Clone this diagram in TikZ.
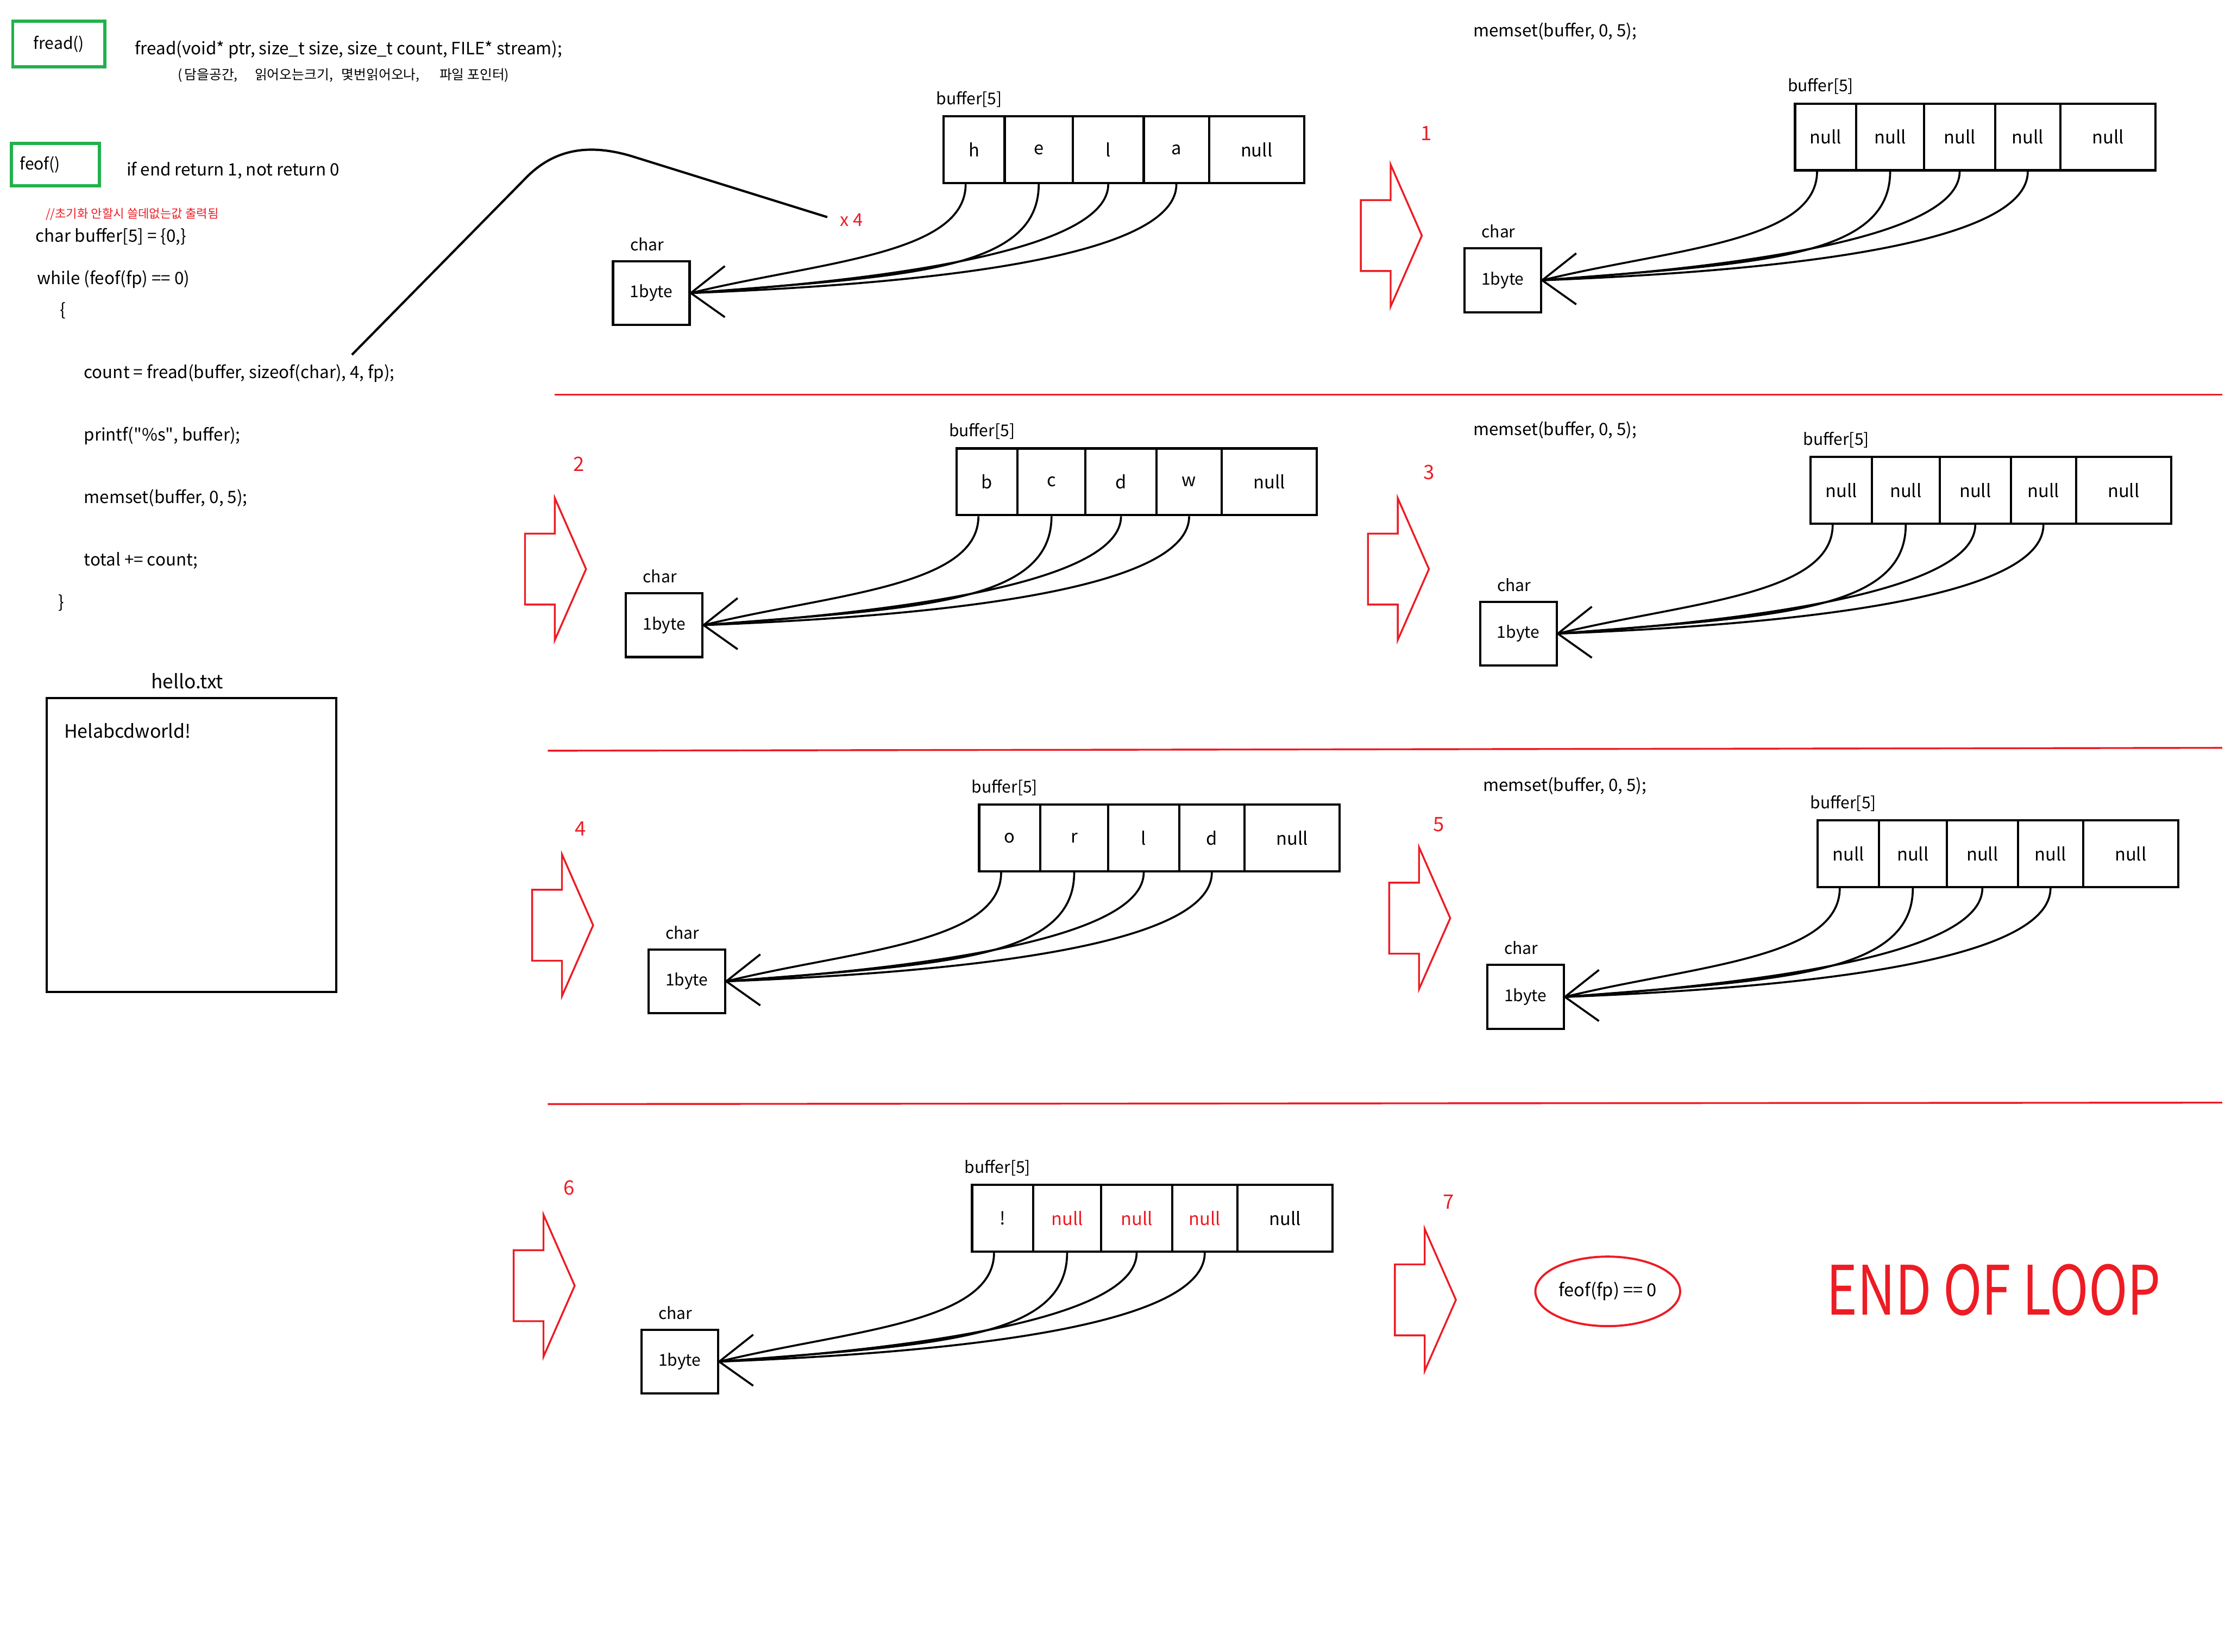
\documentclass[tikz,border=0pt]{standalone}
\usepackage{fontspec}
\setmainfont{Noto Sans CJK KR}
\usetikzlibrary{shapes.geometric}

\definecolor{paintred}{RGB}{237,28,36}
\definecolor{paintgreen}{RGB}{34,177,76}

\tikzset{
  code/.style={anchor=west, inner sep=0pt, font=\fontsize{12}{14}\selectfont},
  lbl/.style={inner sep=0pt, font=\fontsize{11.5}{13}\selectfont},
  cell/.style={draw, line width=1.6pt, minimum height=47, inner sep=0pt, font=\fontsize{12.5}{14}\selectfont},
  charbox/.style={draw, line width=1.6pt, minimum width=54, minimum height=45, inner sep=0pt, font=\fontsize{11.5}{13}\selectfont},
  fan/.style={line width=1.4pt},
  funcbox/.style={draw=paintgreen, line width=2.2pt, inner sep=0pt, font=\fontsize{11.5}{13}\selectfont},
  stepnum/.style={text=paintred, inner sep=0pt, font=\fontsize{14}{16}\selectfont},
  blockarrow/.style={draw=paintred, line width=1.3pt},
  sepline/.style={draw=paintred, line width=1.3pt}
}

% one buffer[5] with its char box and the four reads
\newcommand{\bufpanel}[8]{%
  \begin{scope}[shift={(#2,#3)}]
    \node[cell, minimum width=43] (#1c1) at (21.5,23.5) {#4};
    \node[cell, minimum width=48] (#1c2) at (67,23.5) {#5};
    \node[cell, minimum width=50] (#1c3) at (116,23.5) {#6};
    \node[cell, minimum width=46] (#1c4) at (164,23.5) {#7};
    \node[cell, minimum width=67] (#1c5) at (220.5,23.5) {#8};
    \node[lbl] (#1buf) at (18,-12) {buffer[5]};
    \node[charbox] (#1ch) at (-206,124.5) {1byte};
    \node[lbl] (#1chl) at (-209,90) {char};
  \end{scope}
  \draw[fan] ([xshift=-6]#1c1.south) .. controls +(0,50) and +(90,-22) .. (#1ch.east);
  \foreach \i/\a/\b/\c in {2/62/150/12, 3/45/150/10, 4/50/180/7}
    \draw[fan] (#1c\i.south) .. controls +(0,\a) and +(\b,-\c) .. (#1ch.east);
  \draw[fan] ([shift={(24,-19)}]#1ch.east) -- (#1ch.east) -- ([shift={(24,17)}]#1ch.east);
}

% red block arrow, given left end of shaft and middle height
\newcommand{\steparrow}[1]{%
  \draw[blockarrow, shift={#1}] (0,-25) -- (21,-25) -- (21,-50) -- (43,0) -- (21,50) -- (21,25) -- (0,25) -- cycle;
}

\begin{document}
\begin{tikzpicture}[x=1pt, y=-1pt]
  \useasboundingbox (0,0) rectangle (1568,1164);

  % Function boxes
  \node[funcbox, minimum width=65, minimum height=32] (freadbox) at (41.5,31) {fread()};
  \node[funcbox, text width=50, inner xsep=6, minimum height=30] (feofbox) at (39,116) {feof()};
  \node[code] (sig) at (95,35) {fread(void* ptr, size\_t size, size\_t count, FILE* stream);};
  \node[code, font=\fontsize{9.5}{11}\selectfont] (sigko) at (125,53)
    {(\,담을공간,\hspace{12pt}읽어오는크기,\hspace{6pt}몇번읽어오나,\hspace{14pt}파일 포인터)};
  \node[code] (ifend) at (89,120) {if end return 1, not return 0};

  % Code
  \node[code, text=paintred, font=\fontsize{8.5}{10}\selectfont] (note) at (32,151) {//초기화 안할시 쓸데없는값 출력됨};
  \node[code] (decl) at (25,167) {char buffer[5] = \{0,\}};
  \node[code] (whileln) at (26,197) {while (feof(fp) == 0)};
  \node[code] (lbrace) at (42,219) {\{};
  \node[code] (countln) at (59,263) {count = fread(buffer, sizeof(char), 4, fp);};
  \node[code] (println) at (59,307) {printf(\textquotedbl\%s\textquotedbl, buffer);};
  \node[code] (memsetln) at (59,351) {memset(buffer, 0, 5);};
  \node[code] (totalln) at (59,395) {total += count;};
  \node[code] (rbrace) at (41,425) {\}};

  % File
  \node[lbl, font=\fontsize{13.5}{15}\selectfont] (filename) at (132,480) {hello.txt};
  \node[draw, line width=1.6pt, minimum width=204, minimum height=207] (filebox) at (135,595.5) {};
  \node[code, font=\fontsize{13}{15}\selectfont] (filetext) at (45,515) {Helabcdworld!};

  % Loop curve
  \coordinate (loopstart) at (248,250);
  \coordinate (loopend) at (583,153);
  \node[stepnum, anchor=west, font=\fontsize{12.5}{14}\selectfont] (times) at (592,155) {x 4};
  \draw[line width=1.6pt] (loopstart) -- (370,126) .. controls (392,103) and (418,102) .. (445,110) -- (loopend);

  % Separators
  \draw[sepline] (391,278) -- (1566,278);
  \draw[sepline] (386,529) -- (1566,527);
  \draw[sepline] (386,778) -- (1566,777);

  % Buffers
  \bufpanel{p0}{665}{82}{h}{e}{l}{a}{null}
  \bufpanel{p1}{1265}{73}{null}{null}{null}{null}{null}
  \bufpanel{p2}{674}{316}{b}{c}{d}{w}{null}
  \bufpanel{p3}{1276}{322}{null}{null}{null}{null}{null}
  \bufpanel{p4}{690}{567}{o}{r}{l}{d}{null}
  \bufpanel{p5}{1281}{578}{null}{null}{null}{null}{null}
  \bufpanel{p6}{685}{835}{!}{\textcolor{paintred}{null}}{\textcolor{paintred}{null}}{\textcolor{paintred}{null}}{null}

  \node[code] (memset1) at (1038,22) {memset(buffer, 0, 5);};
  \node[code] (memset3) at (1038,303) {memset(buffer, 0, 5);};
  \node[code] (memset5) at (1045,554) {memset(buffer, 0, 5);};

  % Steps
  \steparrow{(959,166)}
  \steparrow{(370,401)}
  \steparrow{(964,401)}
  \steparrow{(375,652)}
  \steparrow{(979,647)}
  \steparrow{(362,906)}
  \steparrow{(983,916)}
  \node[stepnum] (s1) at (1005,94) {1};
  \node[stepnum] (s2) at (408,327) {2};
  \node[stepnum] (s3) at (1007,333) {3};
  \node[stepnum] (s4) at (409,584) {4};
  \node[stepnum] (s5) at (1014,581) {5};
  \node[stepnum] (s6) at (401,837) {6};
  \node[stepnum] (s7) at (1021,847) {7};

  % End
  \node[draw=paintred, ellipse, line width=1.5pt, minimum width=102, minimum height=49, inner sep=0pt,
    font=\fontsize{12.5}{14}\selectfont] (eofcheck) at (1133,910) {feof(fp) == 0};
  \node[text=paintred, inner sep=0pt] (endloop) at (1405,909)
    {\scalebox{0.77}[1]{\fontsize{48}{52}\selectfont END OF LOOP}};
\end{tikzpicture}
\end{document}
